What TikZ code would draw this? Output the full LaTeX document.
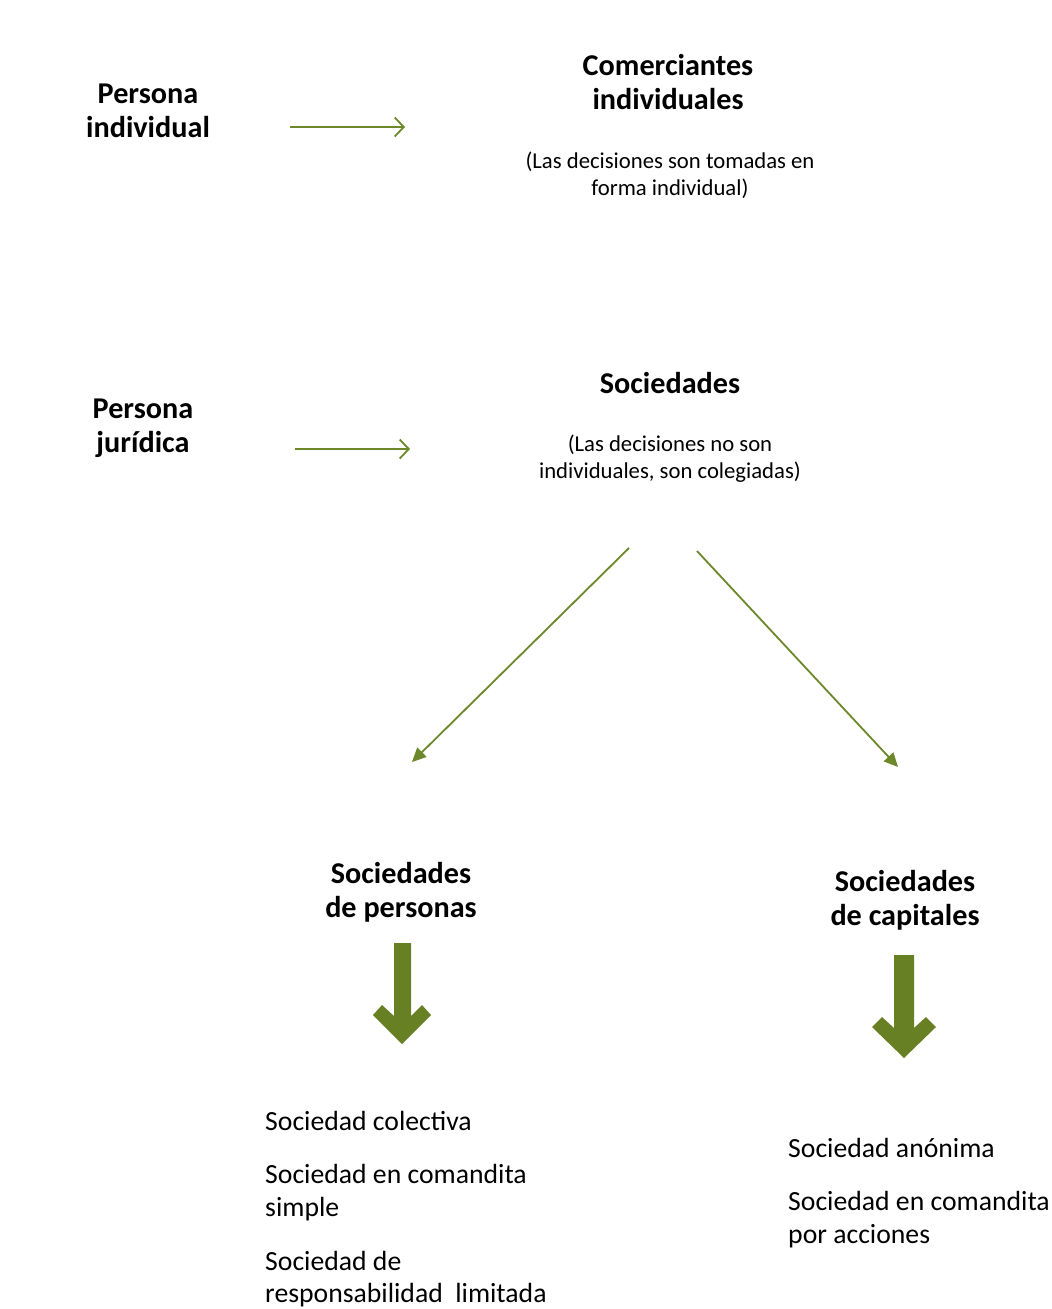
\documentclass[tikz,border=0pt]{standalone}
\usepackage{fontspec}
\setmainfont{Carlito}
\usetikzlibrary{arrows.meta}
\definecolor{olive}{RGB}{108,136,42}
\definecolor{fatolive}{RGB}{104,128,36}
\tikzset{
  head/.style={font=\bfseries\fontsize{30.2}{34}\selectfont, align=center, inner sep=0pt},
  desc/.style={font=\fontsize{22.7}{27}\selectfont, align=center, inner sep=0pt},
  item/.style={font=\fontsize{27.7}{33}\selectfont, align=left, anchor=west, inner sep=0pt},
  harrow/.style={draw=olive, line width=2.2pt, -{Straight Barb[length=9pt,width=19pt,line width=1.8pt]}},
  darrow/.style={draw=olive, line width=1.8pt, -{Triangle[length=14pt,width=13pt]}},
  fat/.style={fill=fatolive, draw=none}
}
\begin{document}
\begin{tikzpicture}[x=1pt,y=-1pt]
\useasboundingbox (0,0) rectangle (1052,1309);
% left labels
\node[head] (pi) at (148,111) {Persona\\individual};
\node[head] (pj) at (143,428) {Persona\\jurídica};
% right column
\node[head] (com) at (668,82) {Comerciantes\\individuales};
\node[desc] (comd) at (670,175) {(Las decisiones son tomadas en\\forma individual)};
\node[head] (soc) at (670,383) {Sociedades};
\node[desc] (socd) at (670,459) {(Las decisiones no son\\individuales, son colegiadas)};
% horizontal arrows
\coordinate (a1s) at (290,127); \coordinate (a1e) at (405,127);
\coordinate (a2s) at (295,449); \coordinate (a2e) at (410,449);
\draw[harrow] (a1s) -- (a1e);
\draw[harrow] (a2s) -- (a2e);
% diagonal arrows
\coordinate (d1s) at (629,548); \coordinate (d1e) at (412,762);
\coordinate (d2s) at (697,551); \coordinate (d2e) at (898,767);
\draw[darrow] (d1s) -- (d1e);
\draw[darrow] (d2s) -- (d2e);
% sub headings
\node[head] (sp) at (401,892) {Sociedades\\de personas};
\node[head] (sc) at (905,900) {Sociedades\\de capitales};
% fat arrows
\fill[fat] (394,943) -- (411,943) -- (411,1016) -- (422,1005) -- (431,1015) -- (402,1044) -- (373,1015) -- (382,1005) -- (394,1016) -- cycle;
\fill[fat] (894,955) -- (914,955) -- (914,1028) -- (926,1017) -- (936,1027) -- (904,1058) -- (872,1027) -- (882,1017) -- (894,1028) -- cycle;
% lists
\node[item] (l1) at (265,1121) {Sociedad colectiva};
\node[item] (l2) at (265,1193) {Sociedad en comandita\\simple};
\node[item, font=\fontsize{27.7}{32}\selectfont] (l3) at (265,1279) {Sociedad de\\responsabilidad\ \ limitada};
\node[item] (r1) at (788,1148) {Sociedad anónima};
\node[item] (r2) at (788,1220) {Sociedad en comandita\\por acciones};
\end{tikzpicture}
\end{document}
